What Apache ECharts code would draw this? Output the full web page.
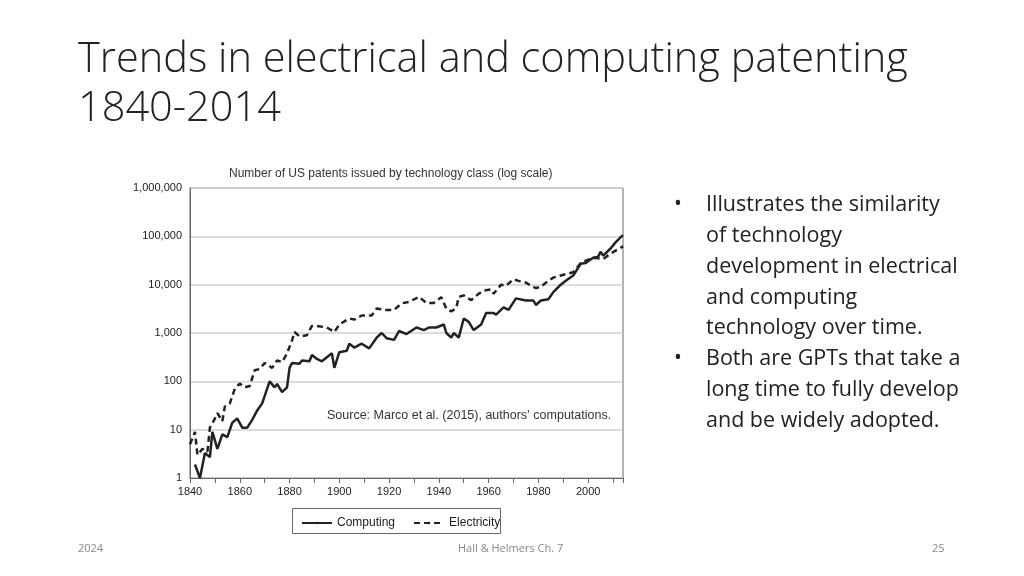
<!DOCTYPE html>
<html>
<head>
<meta charset="utf-8">
<script src="https://cdn.jsdelivr.net/npm/echarts@6/dist/echarts.min.js"></script>
<style>
html, body { margin: 0; padding: 0; background: #fff; }
#main { width: 1024px; height: 576px; }
</style>
</head>
<body>
<div id="main"></div>
<script>
// data (year, patents)
var computingYears = [1842,1844,1846,1848,1849,1851,1853,1855,1857,1859,1861,1863,1865,1867,1869,1872,1874,1875,1877,1879,1880,1881,1884,1885,1888,1889,1891,1893,1897,1898,1900,1903,1904,1906,1909,1912,1915,1917,1919,1922,1924,1927,1931,1934,1936,1939,1942,1943,1945,1946,1948,1950,1952,1954,1957,1959,1962,1963,1966,1968,1971,1975,1978,1979,1981,1984,1986,1989,1991,1994,1997,1999,2002,2004,2005,2006,2009,2011,2013,2014];
var computingValues = [1.9,1,3.3,2.7,9,4,8,7,14,17,11,11,16,25,35,100,75,88,60,75,190,240,230,270,260,350,290,260,380,190,400,430,600,500,600,480,800,1000,780,720,1100,950,1300,1150,1300,1300,1500,1000,800,1000,800,2000,1700,1150,1500,2600,2600,2400,3400,3000,5200,4700,4700,3800,4700,5000,7000,10000,12000,15500,27000,28000,36000,38000,48000,40000,56000,75000,95000,105000];
var electricityYears = [1840,1842,1843,1845,1847,1848,1850,1851,1853,1854,1856,1858,1860,1862,1864,1866,1868,1870,1873,1875,1877,1879,1881,1882,1884,1887,1889,1891,1895,1898,1900,1904,1906,1909,1913,1915,1919,1922,1925,1928,1932,1935,1938,1941,1943,1945,1947,1948,1950,1953,1956,1958,1961,1962,1965,1967,1970,1972,1975,1977,1979,1981,1983,1986,1989,1992,1994,1997,2000,2003,2006,2009,2014];
var electricityValues = [5,9,3,4,3.5,11,17,22,15,30,35,70,90,75,80,170,180,240,190,270,250,380,700,1050,850,900,1400,1400,1300,1050,1500,2000,1900,2300,2300,3200,3000,3000,4100,4400,5600,4200,4200,5500,3200,2800,3300,5600,6000,4800,6500,7500,8000,6500,10000,9500,13000,12000,11000,9500,8500,9000,11000,14000,15500,17000,18000,28000,33000,36000,34000,44000,62000];
var bullets = ['Illustrates the similarity', 'of technology', 'development in electrical', 'and computing', 'technology over time.', 'Both are GPTs that take a', 'long time to fully develop', 'and be widely adopted.'];

function pairs(xs, ys) {
    var out = [];
    for (var i = 0; i < xs.length; i++) out.push([xs[i], ys[i]]);
    return out;
}

var myChart = echarts.init(document.getElementById('main'));
var chartFont = 'Liberation Sans';
var slideFont = 'Open Sans';

var graphics = [
    { type: 'text', left: 78, top: 36, style: { text: 'Trends in electrical and computing patenting\n1840-2014', font: '300 41.5px ' + slideFont, fill: '#222', lineHeight: 49 } },
    { type: 'text', left: 327, top: 409, style: { text: 'Source: Marco et al. (2015), authors\u2019 computations.', font: '12.5px ' + chartFont, fill: '#333' } },
    { type: 'text', left: 78, top: 543, style: { text: '2024', font: '11px ' + slideFont, fill: '#888' } },
    { type: 'text', left: 458, top: 543, style: { text: 'Hall & Helmers Ch. 7', font: '11px ' + slideFont, fill: '#888' } },
    { type: 'text', left: 932, top: 543, style: { text: '25', font: '11px ' + slideFont, fill: '#888' } }
];
for (var i = 0; i < bullets.length; i++) {
    var isStart = (i === 0 || i === 5);
    if (isStart) graphics.push({ type: 'text', left: 674, top: 194 + i * 30.8, style: { text: '\u2022', font: '21px ' + slideFont, fill: '#222' } });
    graphics.push({ type: 'text', left: 706, top: 194 + i * 30.8, style: { text: bullets[i], font: '21.5px ' + slideFont, fill: '#222' } });
}
graphics.push({ type: 'rect', left: 290, top: 506, shape: { width: 208, height: 25 }, style: { fill: 'none', stroke: '#666', lineWidth: 1 } });

option = {
    backgroundColor: '#fff',
    animation: false,
    title: {
        text: 'Number of US patents issued by technology class (log scale)',
        left: 224, top: 163,
        textStyle: { fontFamily: chartFont, fontSize: 12, fontWeight: 'normal', color: '#333' }
    },
    legend: {
        left: 296, top: 512,
        itemWidth: 30, itemHeight: 3, itemGap: 18,
        textStyle: { fontFamily: chartFont, fontSize: 12, color: '#222' },
        data: ['Computing', 'Electricity']
    },
    grid: { left: 190, right: 401, top: 188, bottom: 98, show: true, borderColor: '#666', borderWidth: 1 },
    xAxis: {
        type: 'value', min: 1840, max: 2014, interval: 20,
        axisLine: { lineStyle: { color: '#666' } },
        axisTick: { show: true, lineStyle: { color: '#666' } },
        minorTick: { show: true, splitNumber: 2, length: 5, lineStyle: { color: '#666' } },
        splitLine: { show: false },
        axisLabel: {
            fontFamily: chartFont, fontSize: 11, color: '#222', showMaxLabel: false,
            formatter: function (v) { return String(v); }
        }
    },
    yAxis: {
        type: 'log', logBase: 10, min: 1, max: 1000000,
        axisLine: { show: true, lineStyle: { color: '#666' } },
        axisTick: { show: false },
        splitLine: { lineStyle: { color: '#d0d0d0', width: 1.5 } },
        axisLabel: {
            fontFamily: chartFont, fontSize: 11, color: '#222',
            formatter: function (v) { return Math.round(v).toLocaleString('en-US'); }
        }
    },
    series: [
        {
            name: 'Computing', type: 'line', symbol: 'none',
            data: pairs(computingYears, computingValues),
            lineStyle: { color: '#222', width: 2.5 },
            itemStyle: { color: '#222' }
        },
        {
            name: 'Electricity', type: 'line', symbol: 'none',
            data: pairs(electricityYears, electricityValues),
            lineStyle: { color: '#222', width: 2.5, type: [6, 4] },
            itemStyle: { color: '#222' }
        }
    ],
    graphic: graphics
};

myChart.setOption(option);
window.addEventListener("resize", function () {
    myChart.resize();
});
</script>
</body>
</html>
